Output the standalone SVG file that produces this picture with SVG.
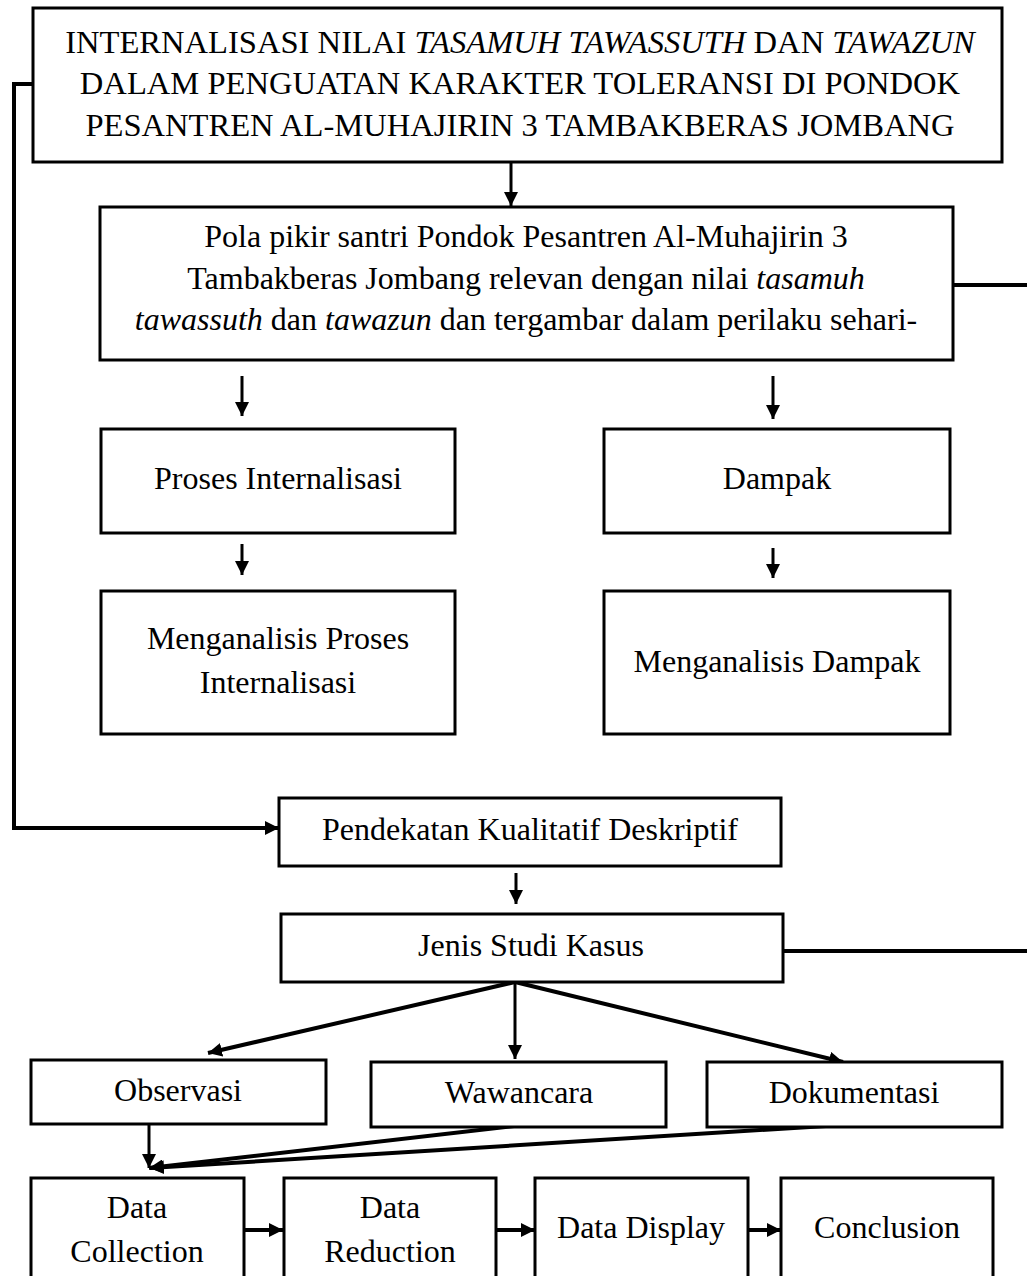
<svg xmlns="http://www.w3.org/2000/svg" width="1027" height="1276" viewBox="0 0 1027 1276">
<style>
.box{fill:#fff;stroke:#000;stroke-width:3}
.t{font-family:"Liberation Serif","Times New Roman",serif;font-size:32px;fill:#000;text-anchor:middle}
.tt{font-size:32.6px}
.i{font-style:italic}
.c{fill:none;stroke:#000;stroke-width:3}
.ct{fill:none;stroke:#000;stroke-width:4}
</style>
<defs>
<marker id="ah" markerUnits="userSpaceOnUse" markerWidth="14" markerHeight="14" refX="14" refY="7" orient="auto" viewBox="0 0 14 14">
<path d="M0,0 L14,7 L0,14 z" fill="#000"/>
</marker>
</defs>
<rect width="1027" height="1276" fill="#fff"/>
<g id="connectors">
<path class="ct" d="M33,84 H14 V828 H279" marker-end="url(#ah)"/>
<path class="ct" d="M953,285 H1027"/>
<path class="ct" d="M783,951 H1027"/>
<path class="c" d="M511,162 V206" marker-end="url(#ah)"/>
<path class="c" d="M242,376 V416" marker-end="url(#ah)"/>
<path class="c" d="M773,376 V419" marker-end="url(#ah)"/>
<path class="c" d="M242,544 V575" marker-end="url(#ah)"/>
<path class="c" d="M773,548 V578" marker-end="url(#ah)"/>
<path class="c" d="M516,873 V904" marker-end="url(#ah)"/>
<path class="ct" d="M515,982 L208,1053" marker-end="url(#ah)"/>
<path class="c" d="M515,982 V1059" marker-end="url(#ah)"/>
<path class="ct" d="M515,982 L843,1062" marker-end="url(#ah)"/>
<path class="c" d="M149,1124 V1168" marker-end="url(#ah)"/>
<path class="ct" d="M514,1126 L149,1168" marker-end="url(#ah)"/>
<path class="ct" d="M842,1125 L150,1168" marker-end="url(#ah)"/>
<path class="ct" d="M244,1230 H283" marker-end="url(#ah)"/>
<path class="ct" d="M496,1230 H535" marker-end="url(#ah)"/>
<path class="ct" d="M748,1230 H781" marker-end="url(#ah)"/>
</g>
<g id="node-title">
<rect class="box" x="33" y="8" width="969" height="154"/>
<text class="t tt" x="520" y="53">INTERNALISASI NILAI <tspan class="i">TASAMUH TAWASSUTH</tspan> DAN <tspan class="i">TAWAZUN</tspan></text>
<text class="t tt" x="520" y="94">DALAM PENGUATAN KARAKTER TOLERANSI DI PONDOK</text>
<text class="t tt" x="520" y="136">PESANTREN AL-MUHAJIRIN 3 TAMBAKBERAS JOMBANG</text>
</g>
<g id="node-pola">
<rect class="box" x="100" y="207" width="853" height="153"/>
<text class="t" x="526" y="247">Pola pikir santri Pondok Pesantren Al-Muhajirin 3</text>
<text class="t" x="526" y="289">Tambakberas Jombang relevan dengan nilai <tspan class="i">tasamuh</tspan></text>
<text class="t" x="526" y="330"><tspan class="i">tawassuth</tspan> dan <tspan class="i">tawazun</tspan> dan tergambar dalam perilaku sehari-</text>
</g>
<g id="node-proses">
<rect class="box" x="101" y="429" width="354" height="104"/>
<text class="t" x="278" y="489">Proses Internalisasi</text>
</g>
<g id="node-dampak">
<rect class="box" x="604" y="429" width="346" height="104"/>
<text class="t" x="777" y="489">Dampak</text>
</g>
<g id="node-analisis-proses">
<rect class="box" x="101" y="591" width="354" height="143"/>
<text class="t" x="278" y="649">Menganalisis Proses</text>
<text class="t" x="278" y="693">Internalisasi</text>
</g>
<g id="node-analisis-dampak">
<rect class="box" x="604" y="591" width="346" height="143"/>
<text class="t" x="777" y="672">Menganalisis Dampak</text>
</g>
<g id="node-pendekatan">
<rect class="box" x="279" y="798" width="502" height="68"/>
<text class="t" x="530" y="840">Pendekatan Kualitatif Deskriptif</text>
</g>
<g id="node-jenis">
<rect class="box" x="281" y="914" width="502" height="68"/>
<text class="t" x="531" y="956">Jenis Studi Kasus</text>
</g>
<g id="node-observasi">
<rect class="box" x="31" y="1060" width="295" height="64"/>
<text class="t" x="178" y="1101">Observasi</text>
</g>
<g id="node-wawancara">
<rect class="box" x="371" y="1062" width="295" height="65"/>
<text class="t" x="519" y="1103">Wawancara</text>
</g>
<g id="node-dokumentasi">
<rect class="box" x="707" y="1062" width="295" height="65"/>
<text class="t" x="854" y="1103">Dokumentasi</text>
</g>
<g id="node-collection">
<rect class="box" x="31" y="1178" width="213" height="120"/>
<text class="t" x="137" y="1218">Data</text>
<text class="t" x="137" y="1262">Collection</text>
</g>
<g id="node-reduction">
<rect class="box" x="284" y="1178" width="212" height="120"/>
<text class="t" x="390" y="1218">Data</text>
<text class="t" x="390" y="1262">Reduction</text>
</g>
<g id="node-display">
<rect class="box" x="535" y="1178" width="213" height="120"/>
<text class="t" x="641" y="1238">Data Display</text>
</g>
<g id="node-conclusion">
<rect class="box" x="781" y="1178" width="212" height="120"/>
<text class="t" x="887" y="1238">Conclusion</text>
</g>
</svg>
